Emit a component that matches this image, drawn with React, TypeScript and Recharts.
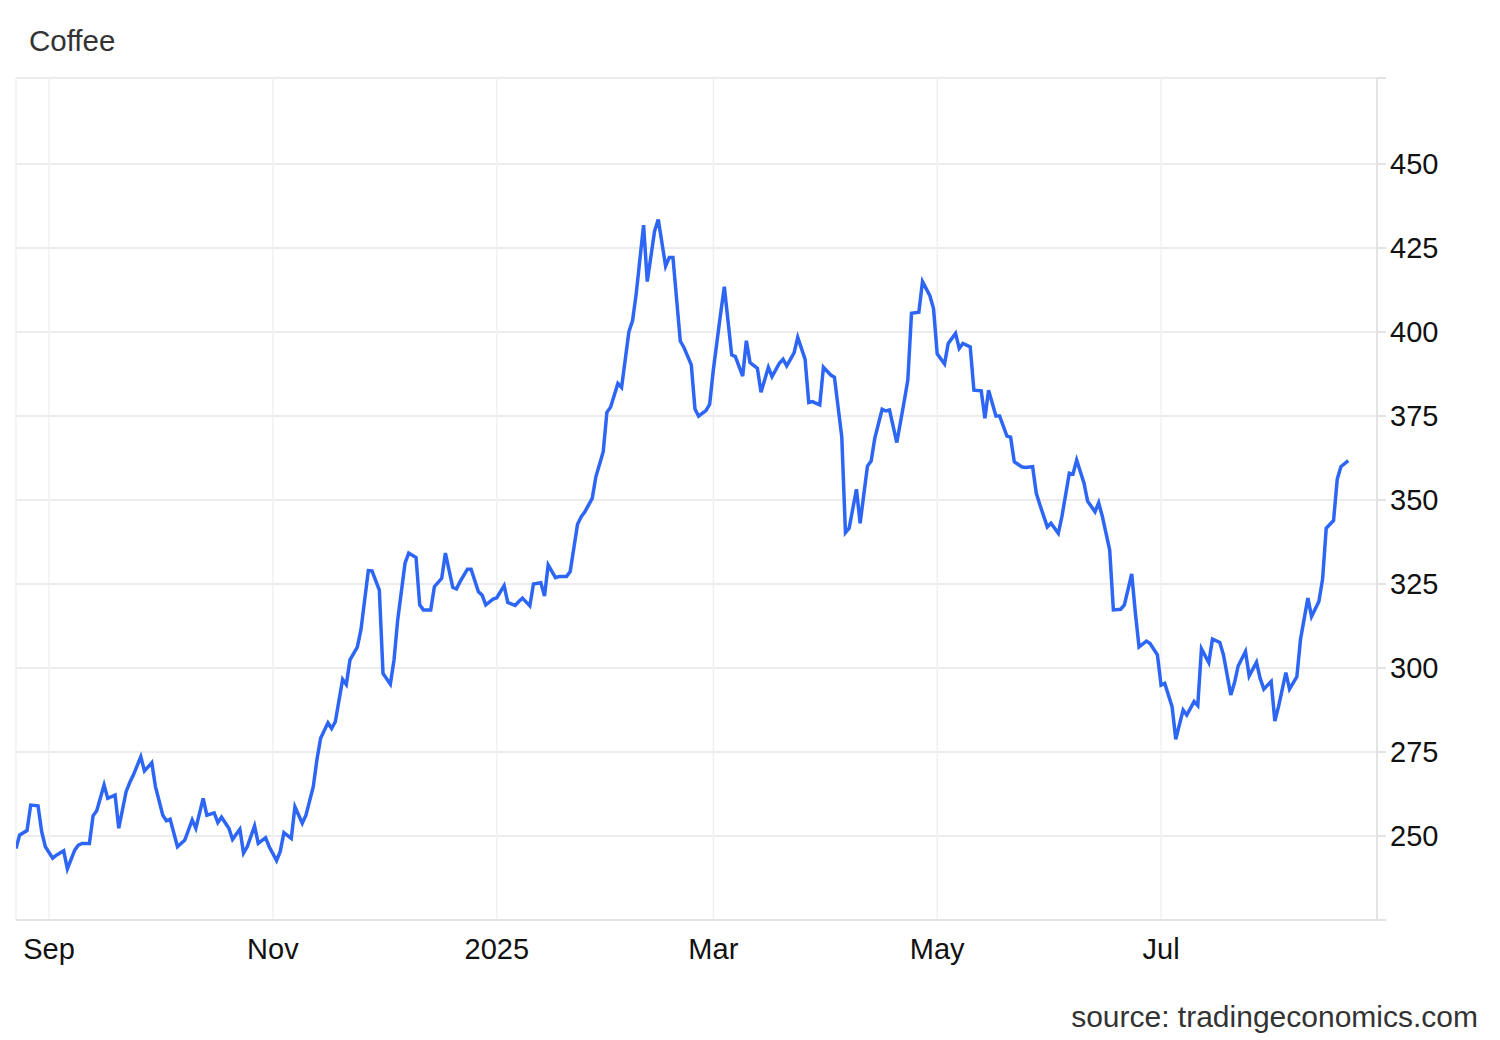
import { LineChart, Line, XAxis, YAxis, CartesianGrid } from "recharts";

// trading days (Aug 2024 – Aug 2025)
const dates = [
  "2024-08-23", "2024-08-24", "2024-08-26", "2024-08-27", "2024-08-29", "2024-08-30", "2024-08-31",
  "2024-09-02", "2024-09-03", "2024-09-05", "2024-09-06", "2024-09-08", "2024-09-09", "2024-09-10", "2024-09-12", "2024-09-13", "2024-09-14", "2024-09-16", "2024-09-17", "2024-09-19", "2024-09-20", "2024-09-22", "2024-09-23", "2024-09-24", "2024-09-26", "2024-09-27", "2024-09-29", "2024-09-30",
  "2024-10-02", "2024-10-03", "2024-10-04", "2024-10-06", "2024-10-08", "2024-10-10", "2024-10-11", "2024-10-13", "2024-10-14", "2024-10-16", "2024-10-17", "2024-10-18", "2024-10-20", "2024-10-21", "2024-10-23", "2024-10-24", "2024-10-25", "2024-10-27", "2024-10-28", "2024-10-30", "2024-10-31",
  "2024-11-02", "2024-11-03", "2024-11-04", "2024-11-06", "2024-11-07", "2024-11-09", "2024-11-10", "2024-11-12", "2024-11-13", "2024-11-14", "2024-11-16", "2024-11-17", "2024-11-18", "2024-11-20", "2024-11-21", "2024-11-22", "2024-11-24", "2024-11-25", "2024-11-27", "2024-11-28", "2024-11-30",
  "2024-12-01", "2024-12-03", "2024-12-04", "2024-12-05", "2024-12-07", "2024-12-08", "2024-12-10", "2024-12-11", "2024-12-12", "2024-12-14", "2024-12-15", "2024-12-17", "2024-12-18", "2024-12-20", "2024-12-21", "2024-12-22", "2024-12-24", "2024-12-25", "2024-12-27", "2024-12-28", "2024-12-29", "2024-12-31",
  "2025-01-01", "2025-01-03", "2025-01-04", "2025-01-06", "2025-01-07", "2025-01-08", "2025-01-10", "2025-01-11", "2025-01-13", "2025-01-14", "2025-01-15", "2025-01-17", "2025-01-18", "2025-01-20", "2025-01-21", "2025-01-23", "2025-01-24", "2025-01-25", "2025-01-27", "2025-01-28", "2025-01-30", "2025-01-31",
  "2025-02-01", "2025-02-03", "2025-02-04", "2025-02-06", "2025-02-07", "2025-02-08", "2025-02-10", "2025-02-11", "2025-02-13", "2025-02-14", "2025-02-16", "2025-02-17", "2025-02-18", "2025-02-20", "2025-02-21", "2025-02-23", "2025-02-24", "2025-02-25", "2025-02-27", "2025-02-28",
  "2025-03-01", "2025-03-03", "2025-03-04", "2025-03-06", "2025-03-07", "2025-03-09", "2025-03-10", "2025-03-11", "2025-03-13", "2025-03-14", "2025-03-16", "2025-03-17", "2025-03-19", "2025-03-20", "2025-03-21", "2025-03-23", "2025-03-24", "2025-03-26", "2025-03-27", "2025-03-28", "2025-03-30", "2025-03-31",
  "2025-04-02", "2025-04-03", "2025-04-05", "2025-04-06", "2025-04-07", "2025-04-09", "2025-04-10", "2025-04-12", "2025-04-13", "2025-04-14", "2025-04-16", "2025-04-17", "2025-04-18", "2025-04-20", "2025-04-22", "2025-04-23", "2025-04-24", "2025-04-26", "2025-04-27", "2025-04-29", "2025-04-30",
  "2025-05-01", "2025-05-03", "2025-05-04", "2025-05-06", "2025-05-07", "2025-05-08", "2025-05-10", "2025-05-11", "2025-05-13", "2025-05-14", "2025-05-15", "2025-05-17", "2025-05-18", "2025-05-20", "2025-05-21", "2025-05-22", "2025-05-24", "2025-05-25", "2025-05-27", "2025-05-28", "2025-05-29", "2025-05-31",
  "2025-06-01", "2025-06-03", "2025-06-04", "2025-06-06", "2025-06-07", "2025-06-08", "2025-06-10", "2025-06-11", "2025-06-13", "2025-06-14", "2025-06-15", "2025-06-17", "2025-06-18", "2025-06-20", "2025-06-21", "2025-06-23", "2025-06-24", "2025-06-25", "2025-06-27", "2025-06-28", "2025-06-30",
  "2025-07-01", "2025-07-02", "2025-07-04", "2025-07-05", "2025-07-07", "2025-07-08", "2025-07-10", "2025-07-11", "2025-07-12", "2025-07-14", "2025-07-15", "2025-07-17", "2025-07-18", "2025-07-20", "2025-07-21", "2025-07-22", "2025-07-24", "2025-07-25", "2025-07-27", "2025-07-28", "2025-07-29", "2025-07-31",
  "2025-08-01", "2025-08-02", "2025-08-04", "2025-08-05", "2025-08-07", "2025-08-08", "2025-08-10", "2025-08-11", "2025-08-13", "2025-08-14", "2025-08-15", "2025-08-17", "2025-08-18", "2025-08-19", "2025-08-21",
];

// USd/lbs
const prices = [
  246.3, 250.3, 251.6, 259.2, 259.0, 251.3, 246.8,
  243.4, 244.3, 245.6, 240.2, 245.8, 247.3, 247.8, 247.8, 256.0, 257.5, 265.2, 261.2, 262.2, 252.3, 263.2, 265.9, 268.2, 273.6, 269.4, 271.8, 264.7,
  256.2, 254.5, 255.0, 246.8, 248.8, 254.8, 252.3, 261.2, 256.2, 256.9, 254.0, 255.6, 252.3, 249.0, 252.0, 244.9, 246.8, 253.0, 247.8, 249.5, 246.8,
  242.7, 245.4, 251.0, 249.3, 258.7, 253.8, 256.2, 264.7, 272.8, 279.1, 283.7, 282.0, 284.0, 296.6, 295.1, 302.4, 306.2, 311.5, 329.0, 328.9, 323.2,
  298.4, 295.2, 302.4, 314.3, 331.2, 334.2, 332.9, 318.8, 317.3, 317.3, 324.2, 326.7, 334.2, 324.0, 323.5, 325.7, 329.4, 329.4, 322.7, 321.7, 318.8, 320.5,
  320.9, 324.5, 319.5, 318.6, 319.8, 320.8, 318.5, 325.0, 325.4, 321.4, 330.7, 326.9, 327.2, 327.2, 328.7, 342.8, 345.0, 346.5, 350.5, 356.9, 364.4, 376.1,
  377.6, 384.7, 383.5, 400.1, 403.4, 411.5, 431.8, 415.0, 430.1, 433.5, 419.6, 422.2, 422.2, 397.3, 395.4, 390.2, 377.1, 375.0, 376.6, 378.5,
  388.7, 405.6, 413.5, 393.2, 392.7, 386.9, 397.4, 390.9, 389.2, 382.1, 389.5, 386.7, 390.7, 391.9, 389.9, 393.8, 398.4, 391.9, 379.0, 379.3, 378.3, 389.5,
  387.2, 386.5, 368.8, 340.3, 341.6, 353.2, 343.1, 360.1, 361.6, 368.4, 377.0, 376.5, 376.8, 367.1, 379.3, 385.7, 405.6, 405.9, 415.0, 410.8, 407.0,
  393.5, 390.5, 396.6, 399.6, 395.1, 396.6, 395.6, 382.7, 382.5, 374.3, 382.7, 375.0, 375.0, 369.0, 368.7, 361.4, 359.9, 359.7, 359.9, 352.0, 348.5, 342.0,
  343.1, 340.1, 345.2, 358.0, 357.7, 361.9, 355.0, 349.6, 346.5, 349.2, 345.1, 335.1, 317.3, 317.5, 318.8, 328.0, 316.3, 306.3, 308.0, 307.3, 303.9,
  294.9, 295.4, 288.5, 278.8, 287.5, 286.0, 290.0, 288.8, 305.7, 301.6, 308.6, 307.6, 303.9, 292.0, 295.6, 300.6, 304.9, 297.6, 301.7, 296.9, 293.7, 296.0,
  284.2, 288.5, 298.6, 293.7, 297.4, 308.6, 320.8, 315.3, 319.8, 326.4, 341.6, 343.9, 356.2, 359.9, 361.7,
];

const monthTicks = ["2024-09-01", "2024-11-01", "2025-01-01", "2025-03-01", "2025-05-01", "2025-07-01"];
const monthLabels = ["Sep", "Nov", "2025", "Mar", "May", "Jul"];
const priceTicks = [250, 275, 300, 325, 350, 375, 400, 425, 450];
const priceMin = 225;
const priceMax = 475.6;

const toTime = (d: string) => Date.parse(d + "T00:00:00Z");

const data = dates.map((d, i) => ({ t: toTime(d), price: prices[i] }));
const xTicks = monthTicks.map(toTime);
const xDomain = [toTime("2024-08-23"), Date.UTC(2025, 7, 28, 20)];
// the edges of the plot also get a small tick on the right axis
const yTicks = [priceMin, ...priceTicks, priceMax];

const font = "'Liberation Sans', Arial, sans-serif";

const App = () => {
  return (
    <div
      style={{
        position: "absolute",
        left: 0,
        top: 0,
        width: 1500,
        height: 1040,
        background: "#fff",
        fontFamily: font,
      }}
    >
      <div
        style={{
          position: "absolute",
          left: 29,
          top: 26,
          fontSize: 29.5,
          lineHeight: "29px",
          color: "#333",
        }}
      >
        Coffee
      </div>
      <LineChart
        width={1500}
        height={1040}
        data={data}
        margin={{ top: 78, right: 0, bottom: 80, left: 16 }}
      >
        <CartesianGrid vertical={false} stroke="#e6e6e6" strokeWidth={1.5} />
        <CartesianGrid horizontal={false} stroke="#eef0f3" strokeWidth={1.5} />
        <XAxis
          dataKey="t"
          type="number"
          domain={xDomain}
          ticks={xTicks}
          allowDataOverflow
          height={40}
          tickLine={false}
          tickMargin={12}
          axisLine={{ stroke: "#e3e3e3", strokeWidth: 2 }}
          tick={{ fontSize: 29, fill: "#111", fontFamily: font }}
          tickFormatter={(v: number) => monthLabels[xTicks.indexOf(v)] ?? ""}
        />
        <YAxis
          orientation="right"
          width={123}
          domain={[priceMin, priceMax]}
          ticks={yTicks}
          allowDataOverflow
          tickSize={9}
          tickMargin={4}
          axisLine={{ stroke: "#e3e3e3", strokeWidth: 2 }}
          tickLine={{ stroke: "#e3e3e3", strokeWidth: 2 }}
          tick={{ fontSize: 29, fill: "#111", fontFamily: font }}
          tickFormatter={(v: number) => (priceTicks.includes(v) ? String(v) : "")}
        />
        <Line
          type="linear"
          dataKey="price"
          stroke="#2d66f5"
          strokeWidth={3.5}
          dot={false}
          isAnimationActive={false}
        />
      </LineChart>
      <div
        style={{
          position: "absolute",
          right: 22,
          top: 1002,
          fontSize: 30,
          lineHeight: "29px",
          color: "#333",
        }}
      >
        source: tradingeconomics.com
      </div>
    </div>
  );
};

export default App;
